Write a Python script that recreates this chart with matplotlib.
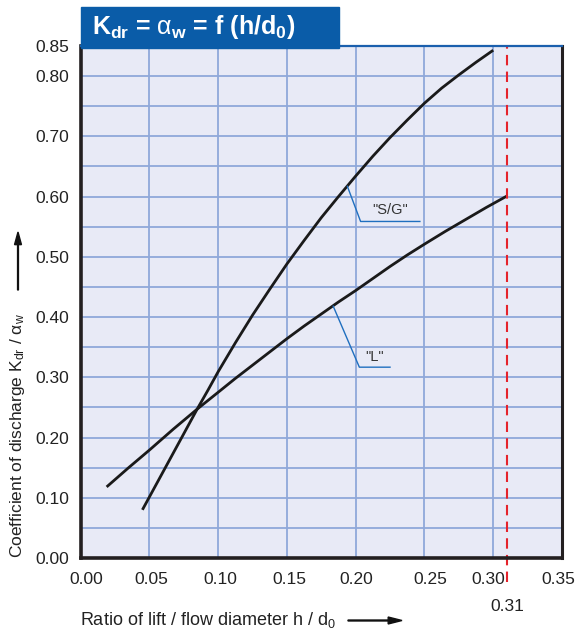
import matplotlib
matplotlib.use('Agg')
import matplotlib.pyplot as plt
from matplotlib.patches import Rectangle, FancyArrow
from matplotlib.transforms import ScaledTranslation

plt.rcParams['font.family'] = ['Liberation Sans', 'DejaVu Sans']
plt.rcParams['mathtext.fontset'] = 'custom'
plt.rcParams['mathtext.rm'] = 'Liberation Sans'
plt.rcParams['mathtext.it'] = 'Liberation Sans:italic'
plt.rcParams['mathtext.bf'] = 'Liberation Sans:bold'

# Courbes
sg_x = [0.045, 0.055, 0.065, 0.075, 0.085, 0.0925, 0.10, 0.1125, 0.125, 0.1375, 0.15,
        0.1625, 0.175, 0.1875, 0.20, 0.2125, 0.225, 0.2375, 0.25, 0.2625, 0.275, 0.2875, 0.30]
sg_y = [0.080, 0.122, 0.164, 0.206, 0.248, 0.278, 0.309, 0.357, 0.403, 0.446, 0.488,
        0.527, 0.565, 0.600, 0.634, 0.667, 0.698, 0.727, 0.755, 0.780, 0.802, 0.823, 0.843]

l_x = [0.019, 0.035, 0.05, 0.0675, 0.085, 0.10, 0.1125, 0.125, 0.1375, 0.15, 0.1625,
       0.175, 0.1875, 0.20, 0.2125, 0.225, 0.2375, 0.25, 0.265, 0.28, 0.295, 0.31]
l_y = [0.118, 0.150, 0.179, 0.214, 0.2475, 0.275, 0.298, 0.320, 0.342, 0.364, 0.385,
       0.405, 0.425, 0.444, 0.464, 0.484, 0.503, 0.521, 0.542, 0.562, 0.582, 0.601]

h_limit = 0.31
x_ticks = [0.00, 0.05, 0.10, 0.15, 0.20, 0.25, 0.30, 0.35]
y_grid = [i * 0.05 for i in range(18)]
y_labels = ['0.00', '', '0.10', '', '0.20', '', '0.30', '', '0.40', '', '0.50', '',
            '0.60', '', '0.70', '', '0.80', '0.85']

# leaders: start on the curve, knee, end
sg_lead_x = [0.194, 0.2036, 0.2467]
sg_lead_y = [0.617, 0.5587, 0.5587]
l_lead_x = [0.1837, 0.2027, 0.2250]
l_lead_y = [0.418, 0.3168, 0.3168]

grid_col = '#8fa8da'
blue = '#0a5ca8'
txt = '#222222'

fig = plt.figure(figsize=(5.76, 6.32), dpi=100)
ax = fig.add_axes([80.5/576, 74/632, (562-80.5)/576, (558-46)/632])
ax.set_facecolor('#e8eaf6')

ax.set_xlim(0, 0.35)
ax.set_ylim(0, 0.85)
ax.set_yticks(y_grid, labels=y_labels)
ax.set_xticks(x_ticks, labels=['%.2f' % v for v in x_ticks])
ax.tick_params(axis='y', length=0, pad=8, labelsize=12.5, labelcolor=txt)
ax.tick_params(axis='x', length=0, pad=10, labelsize=12.5, labelcolor=txt)
ax.grid(True, color=grid_col, lw=1.3)
ax.set_axisbelow(True)

# décalage des étiquettes comme sur l'original
shifts = [6, 2, 2, 3, 1, 6, -5, -4]
for lab, dx in zip(ax.get_xticklabels(), shifts):
    lab.set_transform(lab.get_transform() + ScaledTranslation(dx/100, 0, fig.dpi_scale_trans))

for side in ['left', 'bottom', 'right']:
    ax.spines[side].set_color('#231f20')
ax.spines['left'].set_linewidth(2.6)
ax.spines['bottom'].set_linewidth(2.6)
ax.spines['right'].set_linewidth(2.2)
ax.spines['top'].set_color('#1a5fad')
ax.spines['top'].set_linewidth(1.6)

ax.plot(sg_x, sg_y, color='#1a1a1a', lw=2.0, solid_capstyle='butt', solid_joinstyle='round')
ax.plot(l_x, l_y, color='#1a1a1a', lw=2.0, solid_capstyle='butt', solid_joinstyle='round')

ax.axvline(h_limit, ymin=-0.047, ymax=1, color='#e5232b', lw=1.5,
           ls=(0, (5, 3)), clip_on=False)
ax.text(h_limit, -0.095, '%.2f' % h_limit, transform=ax.get_xaxis_transform(),
        ha='center', va='center', fontsize=12.5, color=txt)

ax.plot(sg_lead_x, sg_lead_y, color='#1f6fbf', lw=1.0)
ax.plot(l_lead_x, l_lead_y, color='#1f6fbf', lw=1.0)
ax.text(0.2249, 0.578, '"S/G"', ha='center', va='center', fontsize=10.5, color='#333333')
ax.text(0.2135, 0.334, '"L"', ha='center', va='center', fontsize=10.5, color='#333333')

# title box
fig.patches.append(Rectangle((81/576, (632-48)/632), (339-81)/576, 41/632,
                             transform=fig.transFigure, color=blue, zorder=3))
fig.text(92/576, (632-27)/632,
         r'K$_{\mathbf{dr}}$ = $\mathrm{α}_{\mathbf{w}}$ = f (h/d$_{\mathbf{0}}$)',
         color='white', fontsize=18, fontweight='bold', ha='left', va='center', zorder=4)

# axis labels with arrows
fig.text(18/576, 74/632, r'Coefficient of discharge K$_{\rm dr}$ / $\mathrm{α}_{\rm w}$',
         rotation=90, ha='center', va='bottom', fontsize=12.5, color=txt)
fig.text(80/576, (632-620)/632, r'Ratio of lift / flow diameter h / d$_0$',
         ha='left', va='center', fontsize=13, color=txt)
fig.patches.append(FancyArrow(
    18/576, (632-290)/632, 0, 58/632, width=0.0015, head_width=0.012,
    head_length=0.02, length_includes_head=True, color='#111111', transform=fig.transFigure))
fig.patches.append(FancyArrow(
    348/576, (632-620.5)/632, 54/576, 0, width=0.0015, head_width=0.011,
    head_length=0.024, length_includes_head=True, color='#111111', transform=fig.transFigure))

fig.savefig('out.png', dpi=100)
